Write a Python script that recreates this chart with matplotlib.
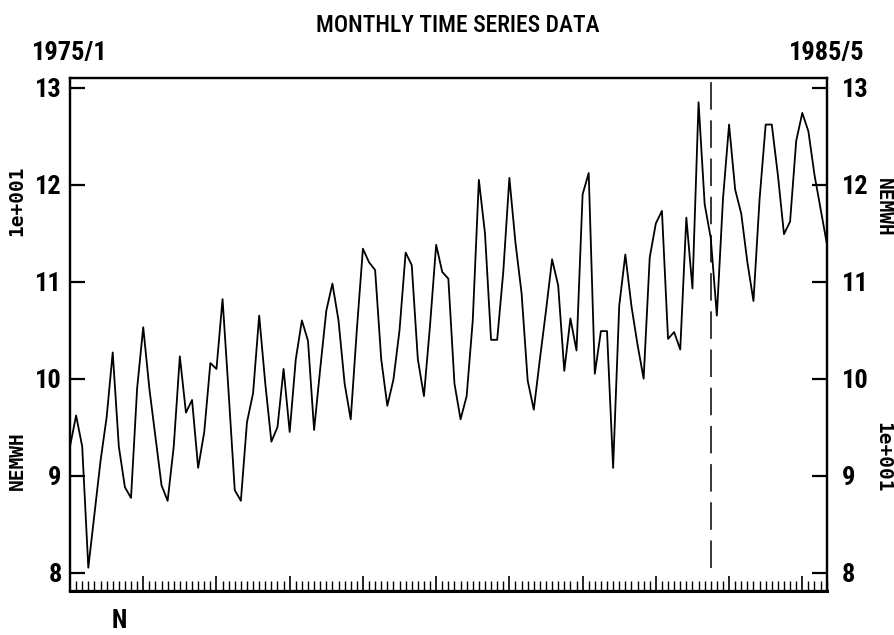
"""
Série temporal mensal, 1975/1 a 1985/5.
"""

import matplotlib

matplotlib.use("Agg")

import matplotlib.pyplot as plt
import numpy as np
from matplotlib import font_manager

# valores mensais (escala 1e+001), de 1975/1 a 1985/5
valores = [
    9.30, 9.62, 9.30, 8.05, 8.60, 9.15, 9.60, 10.27, 9.30, 8.88, 8.77, 9.90,
    10.53, 9.90, 9.40, 8.90, 8.74, 9.30, 10.23, 9.65, 9.78, 9.08, 9.45, 10.16,
    10.10, 10.82, 9.85, 8.85, 8.74, 9.55, 9.85, 10.65, 9.95, 9.35, 9.50, 10.10,
    9.45, 10.20, 10.60, 10.39, 9.47, 10.10, 10.70, 10.98, 10.60, 9.95, 9.58, 10.50,
    11.34, 11.20, 11.12, 10.20, 9.72, 9.99, 10.50, 11.30, 11.17, 10.20, 9.82, 10.55,
    11.38, 11.10, 11.03, 9.95, 9.58, 9.82, 10.60, 12.05, 11.50, 10.40, 10.40, 11.10,
    12.07, 11.40, 10.88, 9.98, 9.68, 10.20, 10.70, 11.23, 10.96, 10.08, 10.62, 10.29,
    11.90, 12.12, 10.05, 10.49, 10.49, 9.08, 10.75, 11.28, 10.75, 10.35, 10.00, 11.25,
    11.60, 11.73, 10.41, 10.48, 10.30, 11.66, 10.93, 12.85, 11.80, 11.45, 10.65, 11.85,
    12.62, 11.95, 11.70, 11.20, 10.80, 11.85, 12.62, 12.62, 12.10, 11.49, 11.62, 12.45,
    12.74, 12.55, 12.10, 11.75, 11.40,
]

rotulo_inicio = "1975/1"
rotulo_fim = "1985/5"
titulo = "MONTHLY TIME SERIES DATA"
rotulo_nome = "NEMWH"
rotulo_escala = "1e+001"
rotulo_n = "N"
n_posicao = 8

y_ticks = [8, 9, 10, 11, 12, 13]
indice_corte = 105  # linha tracejada vertical

# fonte estreita, se existir alguma
nomes = {f.name for f in font_manager.fontManager.ttflist}
preferidas = [
    "Liberation Sans Narrow",
    "Roboto Condensed",
    "Archivo Narrow",
    "PT Sans Narrow",
    "Open Sans Condensed",
    "Oswald",
]
fonte = next((n for n in preferidas if n in nomes), "DejaVu Sans")
plt.rcParams["font.family"] = [fonte, "DejaVu Sans"]
plt.rcParams["font.stretch"] = "condensed"
plt.rcParams["font.weight"] = "bold"

x = np.arange(len(valores))

fig = plt.figure(figsize=(8.94, 6.35), dpi=100)
ax = fig.add_axes([70 / 894, 44 / 635, 756.7 / 894, 513 / 635])

ax.plot(x, valores, color="black", linewidth=1.3)
ax.vlines(indice_corte, 8.05, 13.1, colors="black", linewidth=1.1,
          linestyles=(0, (18, 7)))

ax.set_xlim(0, len(valores) - 1)
ax.set_ylim(7.81, 13.1)

ax.set_xticks(np.arange(0, len(valores), 12))
ax.set_xticks(x, minor=True)
ax.set_xticklabels([])
ax.tick_params(axis="x", which="major", direction="in", length=11, width=1.2,
               top=False)
ax.tick_params(axis="x", which="minor", direction="in", length=7, width=1.0,
               top=False)

ax.set_yticks(y_ticks)
ax.tick_params(axis="y", direction="in", length=11, width=1.6, pad=6,
               labelsize=19, right=False)

ax2 = ax.twinx()
ax2.set_ylim(ax.get_ylim())
ax2.set_yticks(y_ticks)
ax2.tick_params(axis="y", direction="in", length=11, width=1.6, pad=11,
                labelsize=19)

for eixo in (ax, ax2):
    for lado in eixo.spines.values():
        lado.set_linewidth(1.6)
ax.spines["bottom"].set_linewidth(2.2)

# textos do topo e de baixo
trans = ax.get_xaxis_transform()
ax.text(0, 1.049, rotulo_inicio, transform=trans, ha="center", va="center",
        fontsize=19)
ax.text(len(valores) - 1, 1.049, rotulo_fim, transform=trans, ha="center",
        va="center", fontsize=19)
ax.text(n_posicao, -0.058, rotulo_n, transform=trans, ha="center",
        va="center", fontsize=18)

fig.text(458 / 894, 1 - 25 / 635, titulo, ha="center", va="center",
         fontsize=17, fontweight="medium")

# rótulos verticais dos dois lados
mono = {"family": "DejaVu Sans Mono", "fontweight": "bold", "fontsize": 14}
fig.text(17 / 894, 1 - 201 / 635, rotulo_escala, rotation=90, ha="center",
         va="center", **mono)
fig.text(17 / 894, 1 - 461 / 635, rotulo_nome, rotation=90, ha="center",
         va="center", **mono)
fig.text(883 / 894, 1 - 207 / 635, rotulo_nome, rotation=-90, ha="center",
         va="center", **mono)
fig.text(883 / 894, 1 - 457 / 635, rotulo_escala, rotation=-90, ha="center",
         va="center", **mono)

fig.savefig("out.png", dpi=100)
plt.close(fig)
